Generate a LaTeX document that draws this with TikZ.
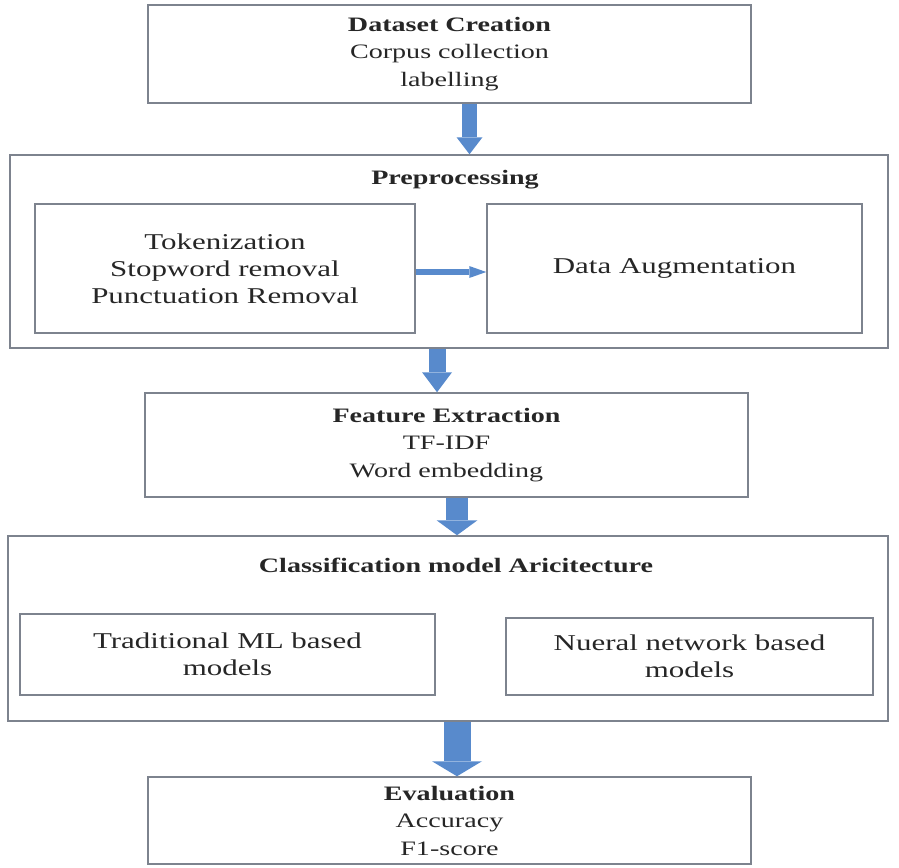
\documentclass[tikz,border=0pt]{standalone}
\usepackage{fontspec}
\setmainfont{Liberation Serif}[FakeStretch=1.37]
\usetikzlibrary{arrows.meta, positioning}
\definecolor{boxgray}{RGB}{125,131,142}
\definecolor{flowblue}{RGB}{88,138,204}
\definecolor{inkgray}{RGB}{38,38,38}

\begin{document}
\begin{tikzpicture}[
        x=1pt, y=-1pt,
        box/.style={draw=boxgray, line width=1.5pt, align=center, text=inkgray,
            inner sep=0pt, font=\fontsize{20.5}{27.5}\selectfont},
        inbox/.style={box, font=\fontsize{22.6}{27}\selectfont},
        title/.style={font=\fontsize{20.5}{27.5}\selectfont\bfseries, text=inkgray, inner sep=0pt},
        bigarrow/.style n args={3}{draw=flowblue, line width=#1,
            -{Triangle[width=#2, length=#3, line width=0pt]}}
    ]
        \useasboundingbox (0,0) rectangle (899,867);

        % main stages
        \path
            (449.5,54)    node[box, minimum width=603pt, minimum height=98pt] (dataset)
                {\textbf{Dataset Creation}\\Corpus collection\\labelling}
            (449,251.5)   node[box, minimum width=878pt, minimum height=193pt] (prep) {}
            (446.5,445)   node[box, minimum width=603pt, minimum height=104pt] (feat)
                {\textbf{Feature Extraction}\\TF-IDF\\Word embedding}
            (448,628.5)   node[box, minimum width=880pt, minimum height=185pt] (class) {}
            (449.5,820.5) node[box, minimum width=603pt, minimum height=87pt] (eval)
                {\textbf{Evaluation}\\Accuracy\\F1-score};

        % titles of the two groups
        \node[title] (preptitle) at (455,180) {Preprocessing};
        \node[title] (classtitle) at (456,565) {Classification model Aricitecture};

        % inner boxes
        \node[inbox, minimum width=380pt, minimum height=129pt] (tok) at (225,268.5)
            {Tokenization\\Stopword removal\\Punctuation Removal};
        \node[inbox, minimum width=375pt, minimum height=129pt] (aug) at (674.5,268.5)
            {Data Augmentation};
        \node[inbox, minimum width=415pt, minimum height=81pt] (trad) at (227.5,654.5)
            {Traditional ML based\\models};
        \node[inbox, minimum width=367pt, minimum height=77pt] (nn) at (689.5,656.5)
            {Nueral network based\\models};

        % block arrows between stages
        \draw[bigarrow={15pt}{26pt}{17pt}] ([xshift=20pt]dataset.south) -- ([xshift=20pt]dataset.south |- prep.north);
        \draw[bigarrow={6pt}{12pt}{17pt}] ([yshift=-3.5pt]tok.east) -- ([yshift=-3.5pt]tok.east -| aug.west);
        \draw[bigarrow={17pt}{30pt}{20pt}] ([xshift=-12pt]prep.south) -- ([xshift=-12pt]prep.south |- feat.north);
        \draw[bigarrow={22pt}{41pt}{15pt}] ([xshift=10.5pt]feat.south) -- ([xshift=10.5pt]feat.south |- class.north);
        \draw[bigarrow={27pt}{50pt}{15pt}] ([xshift=9pt]class.south) -- ([xshift=9pt]class.south |- eval.north);
    \end{tikzpicture}
\end{document}
